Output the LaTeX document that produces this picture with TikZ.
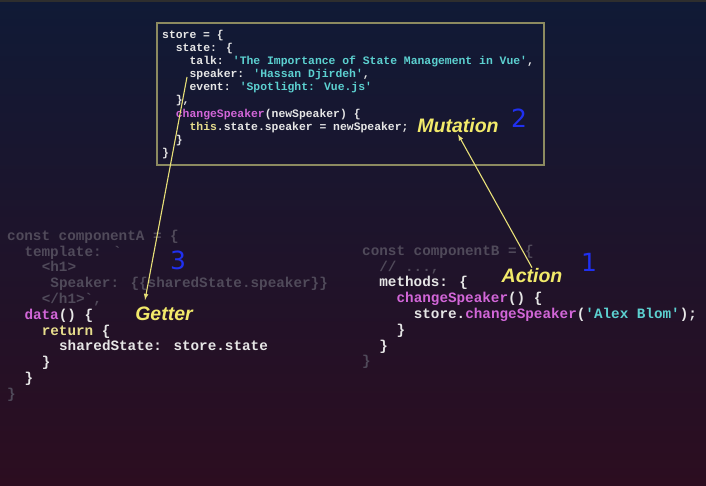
\documentclass[tikz,border=0pt]{standalone}
\usepackage{fontspec}
\newfontfamily\codefont{Liberation Mono}
\newfontfamily\labelfont{Liberation Sans}
\newfontfamily\numfont{DejaVu Sans}

\definecolor{bgtop}{HTML}{101A36}
\definecolor{bgmid}{HTML}{1C1732}
\definecolor{bgbottom}{HTML}{2C0D20}
\definecolor{topbar}{HTML}{2E2E2E}
\definecolor{boxline}{HTML}{8C8A60}
\definecolor{codewhite}{HTML}{E6E6E6}
\definecolor{codedim}{HTML}{504A5A}
\definecolor{codemagenta}{HTML}{D266D8}
\definecolor{codecyan}{HTML}{5CD0D0}
\definecolor{codeyellow}{HTML}{E6DC8C}
\definecolor{labelyellow}{HTML}{F2EA6A}
\definecolor{arrowyellow}{HTML}{E8E078}
\definecolor{handblue}{HTML}{2030F0}

\begin{document}
\begin{tikzpicture}[x=1pt,y=-1pt]
	\tikzstyle{storecode}=[anchor=base west,inner sep=0pt,text=codewhite,font=\codefont\bfseries\fontsize{11.4}{13}\selectfont]
	\tikzstyle{compcode}=[storecode,font=\codefont\bfseries\fontsize{14.3}{16}\selectfont]
	\tikzstyle{dimcode}=[compcode,text=codedim]
	\tikzstyle{tag}=[text=labelyellow,font=\labelfont\bfseries\itshape\fontsize{19.5}{22}\selectfont,inner sep=1pt]
	\tikzstyle{hand}=[text=handblue,font=\numfont\fontsize{25}{27}\selectfont,inner sep=0pt]
	\tikzstyle{myarrow}=[arrowyellow,line width=1.1pt,>=latex,->]

	\useasboundingbox (0,0) rectangle (706,486);
	\shade[top color=bgtop,middle color=bgmid,bottom color=bgbottom] (0,0) rectangle (706,486);
	\fill[topbar] (0,0) rectangle (706,2.5);

	% the store
	\node[draw=boxline,line width=1.2pt,minimum width=387pt,minimum height=142pt,inner sep=0pt] (store) at (350.5,94) {};
	\node[storecode] (s1) at (162,38.5) {store = \{};
	\node[storecode] (s2) at (175.7,51.6) {state: \{};
	\node[storecode] (s3) at (189.4,64.7) {talk: \textcolor{codecyan}{'The Importance of State Management in Vue'},};
	\node[storecode] (s4) at (189.4,77.8) {speaker: \textcolor{codecyan}{'Hassan Djirdeh'},};
	\node[storecode] (s5) at (189.4,90.9) {event: \textcolor{codecyan}{'Spotlight: Vue.js'}};
	\node[storecode] (s6) at (175.7,104) {\},};
	\node[storecode] (s7) at (175.7,117.1) {\textcolor{codemagenta}{changeSpeaker}(newSpeaker) \{};
	\node[storecode] (s8) at (189.4,130.2) {\textcolor{codeyellow}{this}.state.speaker = newSpeaker;};
	\node[storecode] (s9) at (175.7,143.3) {\}};
	\node[storecode] (s10) at (162,156.4) {\}};

	% component A
	\node[dimcode] (a1) at (7,240.3) {const componentA = \{};
	\node[dimcode] (a2) at (24.3,256.1) {template: `};
	\node[dimcode] (a3) at (41.6,271.9) {<h1>};
	\node[dimcode] (a4) at (50.25,287.7) {Speaker: \{\{sharedState.speaker\}\}};
	\node[dimcode] (a5) at (41.6,303.5) {</h1>`,};
	\node[compcode] (a6) at (24.3,319.3) {\textcolor{codemagenta}{data}() \{};
	\node[compcode] (a7) at (41.6,335.1) {\textcolor{codeyellow}{return} \{};
	\node[compcode] (a8) at (58.9,350.9) {sharedState: store.state};
	\node[compcode] (a9) at (41.6,366.7) {\}};
	\node[compcode] (a10) at (24.3,382.5) {\}};
	\node[dimcode] (a11) at (7,398.3) {\}};

	% component B
	\node[dimcode] (b1) at (362,255.3) {const componentB = \{};
	\node[dimcode] (b2) at (379.2,271.1) {// ...,};
	\node[compcode] (b3) at (379.2,286.9) {methods: \{};
	\node[compcode] (b4) at (396.4,302.7) {\textcolor{codemagenta}{changeSpeaker}() \{};
	\node[compcode] (b5) at (413.6,318.5) {store.\textcolor{codemagenta}{changeSpeaker}(\textcolor{codecyan}{'Alex Blom'});};
	\node[compcode] (b6) at (396.4,334.3) {\}};
	\node[compcode] (b7) at (379.2,350.1) {\}};
	\node[dimcode] (b8) at (362,365.9) {\}};

	% labels and numbers
	\node[tag] (mutation) at (458,126) {Mutation};
	\node[tag] (getter) at (164,314) {Getter};
	\node[tag] (action) at (532,276) {Action};
	\node[hand] (two) at (519,118) {2};
	\node[hand] (three) at (178,260) {3};
	\node[hand] (one) at (589,262) {1};

	\coordinate (speakerTip) at (187,77);
	\coordinate (getterTip) at (145,300);
	\draw[myarrow] (speakerTip) -- (getterTip);
	\draw[myarrow] (action.north) -- (mutation.south);
\end{tikzpicture}
\end{document}
